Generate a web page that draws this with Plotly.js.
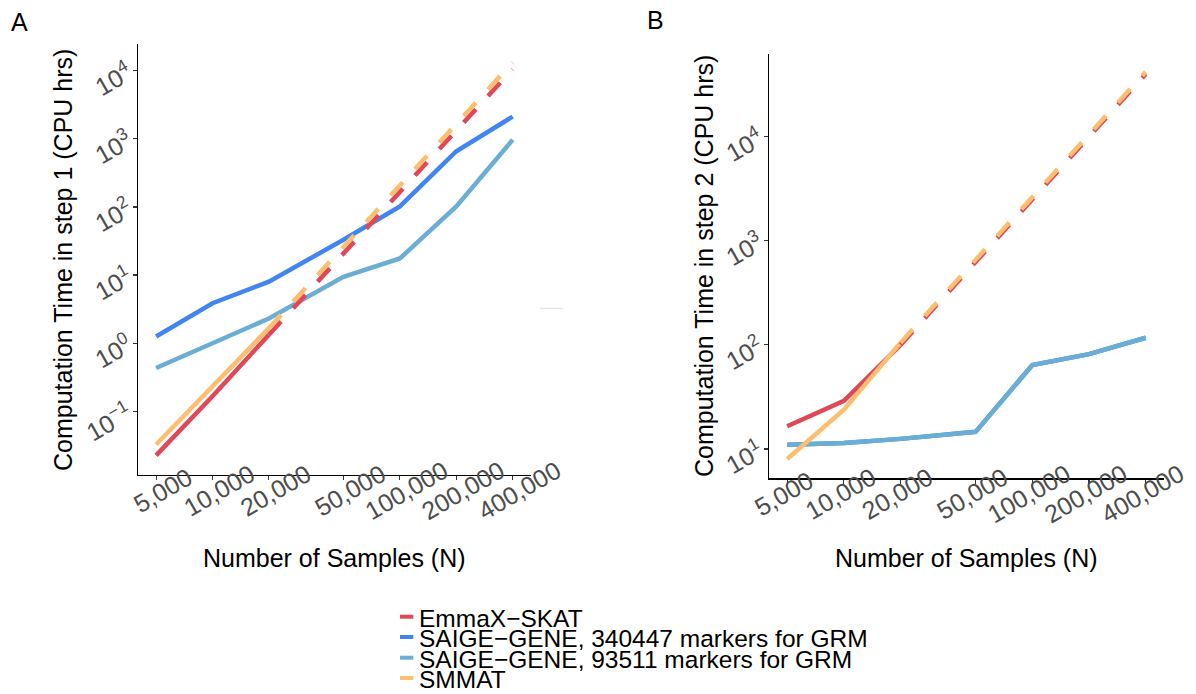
<!DOCTYPE html>
<html>
<head>
<meta charset="utf-8">
<script src="https://cdn.plot.ly/plotly-3.0.1.min.js"></script>
<style>html,body{margin:0;padding:0;background:#fff;}#chart{width:1196px;height:694px;}</style>
</head>
<body>
<div id="chart"></div>
<script>
// ---- data ----
const samples = [5000, 10000, 20000, 50000, 100000, 200000, 400000];
const sampleTickText = ['5,000', '10,000', '20,000', '50,000', '100,000', '200,000', '400,000'];
const measuredN = [5000, 10000, 20000];
const projectedN = [20000, 50000, 100000, 200000, 400000];

const seriesNames = ['EmmaX\u2212SKAT', 'SAIGE\u2212GENE, 340447 markers for GRM', 'SAIGE\u2212GENE, 93511 markers for GRM', 'SMMAT'];
const seriesColors = ['#E0485A', '#4385F0', '#6AAED6', '#FDBF6F'];

// Panel A: step 1 (CPU hrs)
const step1_saige340 = [1.25, 3.85, 8.0, 33, 102, 660, 2130];
const step1_saige935 = [0.43, 1.0, 2.3, 9.4, 17.5, 102, 975];
const step1_emmax_measured = [0.0224, 0.166, 1.33];
const step1_emmax_projected = [1.33, 20.8, 166, 1330, 10600];
const step1_smmat_measured = [0.0324, 0.227, 1.66];
const step1_smmat_projected = [1.66, 26, 207, 1660, 13300];

// Panel B: step 2 (CPU hrs)
const step2_saige340 = [11.0, 11.4, 12.5, 14.6, 64, 81.5, 117];
const step2_saige935 = [11.0, 11.4, 12.5, 14.6, 64, 81.5, 117];
const step2_emmax_measured = [16.5, 29, 100];
const step2_emmax_projected = [100, 625, 2500, 10000, 40000];
const step2_smmat_measured = [8.0, 23.8, 105];
const step2_smmat_projected = [105, 656, 2625, 10500, 42000];

const yTickValsA = [0.1, 1, 10, 100, 1000, 10000];
const yTickTextA = ['10<sup>\u22121</sup>', '10<sup>0</sup>', '10<sup>1</sup>', '10<sup>2</sup>', '10<sup>3</sup>', '10<sup>4</sup>'];
const yTickValsB = [10, 100, 1000, 10000];
const yTickTextB = ['10<sup>1</sup>', '10<sup>2</sup>', '10<sup>3</sup>', '10<sup>4</sup>'];

// ---- layout helpers ----
const W = 1196, H = 694;
const px = v => v / W;
const py = v => 1 - v / H;
const FONT = 'Liberation Sans, Arial, Helvetica, sans-serif';
const LW = 4.5;
const DASH = '18px,18px';

// rotated x labels are centred on their tick in the original: pad shorter labels
// with no-break spaces so that every label's visible centre sits the same distance from its anchor
const padCounts = [2, 1, 1, 1, 0, 0, 0];
const xTickLabels = sampleTickText.map((t, i) => t + '\u00a0'.repeat(padCounts[i]));

function line(x, y, color, xa, ya, dash) {
  return {x: x, y: y, xaxis: xa, yaxis: ya, type: 'scatter', mode: 'lines',
    line: {color: color, width: LW, dash: dash || 'solid'}, showlegend: false, hoverinfo: 'skip'};
}

const traces = [
  line(measuredN, step1_emmax_measured, seriesColors[0], 'x', 'y'),
  line(samples, step1_saige340, seriesColors[1], 'x', 'y'),
  line(samples, step1_saige935, seriesColors[2], 'x', 'y'),
  line(measuredN, step1_smmat_measured, seriesColors[3], 'x', 'y'),
  line(projectedN, step1_emmax_projected, seriesColors[0], 'x', 'y', DASH),
  line(projectedN, step1_smmat_projected, seriesColors[3], 'x', 'y', DASH),

  line(measuredN, step2_emmax_measured, seriesColors[0], 'x2', 'y2'),
  line(samples, step2_saige340, seriesColors[1], 'x2', 'y2'),
  line(samples, step2_saige935, seriesColors[2], 'x2', 'y2'),
  line(measuredN, step2_smmat_measured, seriesColors[3], 'x2', 'y2'),
  line(projectedN, step2_emmax_projected, seriesColors[0], 'x2', 'y2', DASH),
  line(projectedN, step2_smmat_projected, seriesColors[3], 'x2', 'y2', DASH)
];

const axisCommon = {
  showgrid: false, zeroline: false, showline: true, linecolor: '#000', linewidth: 1.2,
  ticks: 'outside', ticklen: 4, tickcolor: '#333', tickwidth: 1.1,
  tickfont: {family: FONT, size: 25, color: '#4D4D4D'}, tickangle: -30,
  ticklabeloverflow: 'allow'
};

const xRange = [3.604, 5.697];

const layout = {
  width: W, height: H,
  margin: {l: 0, r: 0, t: 0, b: 0},
  paper_bgcolor: '#fff', plot_bgcolor: '#fff',
  showlegend: false,
  xaxis: Object.assign({}, axisCommon, {ticklabelshift: 44, ticklabelstandoff: -33,
    type: 'log', domain: [px(138.3), px(530.5)], range: xRange,
    tickmode: 'array', tickvals: samples, ticktext: xTickLabels, anchor: 'y'}),
  yaxis: Object.assign({}, axisCommon, {type: 'log', domain: [py(475), py(44)], range: [-1.938, 4.395],
    tickmode: 'array', tickvals: yTickValsA, ticktext: yTickTextA, anchor: 'x'}),
  xaxis2: Object.assign({}, axisCommon, {ticklabelshift: 34, ticklabelstandoff: -33,
    type: 'log', domain: [px(769.3), px(1163.6)], range: xRange,
    tickmode: 'array', tickvals: samples, ticktext: xTickLabels, anchor: 'y2'}),
  yaxis2: Object.assign({}, axisCommon, {type: 'log', domain: [py(478.3), py(54)], range: [0.718, 4.795],
    tickmode: 'array', tickvals: yTickValsB, ticktext: yTickTextB, anchor: 'x2'}),
  annotations: [],
  shapes: []
};

function ann(text, x, y, size, opts) {
  return Object.assign({text: text, x: px(x), y: py(y), xref: 'paper', yref: 'paper', showarrow: false,
    xanchor: 'center', yanchor: 'middle', font: {family: FONT, size: size, color: '#000'}}, opts || {});
}

layout.annotations.push(ann('A', 19, 22, 25));
layout.annotations.push(ann('B', 655, 20, 25));
layout.annotations.push(ann('Computation Time in step 1 (CPU hrs)', 63, 260, 25, {textangle: -90}));
layout.annotations.push(ann('Number of Samples (N)', 334.4, 558, 25));
layout.annotations.push(ann('Computation Time in step 2 (CPU hrs)', 704, 266, 25, {textangle: -90}));
layout.annotations.push(ann('Number of Samples (N)', 966.5, 558.3, 25));

// legend (manual, bottom centre)
const legendRowsY = [618, 638.3, 659, 679.3];
seriesNames.forEach((name, i) => {
  layout.annotations.push(ann(name, 416.7, legendRowsY[i], 24.5, {xanchor: 'left'}));
  layout.shapes.push({type: 'line', xref: 'paper', yref: 'paper',
    x0: px(400), x1: px(413.3), y0: py(legendRowsY[i] - 1.3), y1: py(legendRowsY[i] - 1.3),
    line: {color: seriesColors[i], width: 4}});
});

// faint stray line present in the original figure
layout.shapes.push({type: 'line', xref: 'paper', yref: 'paper', x0: px(540), x1: px(563), y0: py(308.3), y1: py(308.3),
  line: {color: '#DDDDDD', width: 1}});

Plotly.newPlot('chart', traces, layout, {displayModeBar: false, staticPlot: true});
</script>
</body>
</html>
